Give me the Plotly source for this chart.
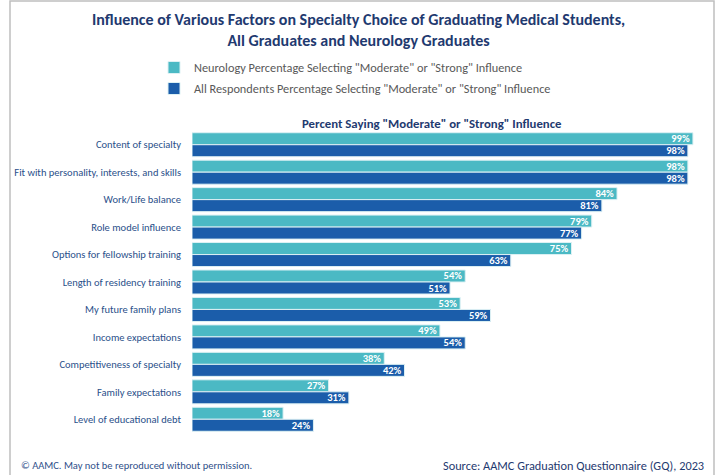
import plotly.graph_objects as go

categories = [
    "Content of specialty",
    "Fit with personality, interests, and skills",
    "Work/Life balance",
    "Role model influence",
    "Options for fellowship training",
    "Length of residency training",
    "My future family plans",
    "Income expectations",
    "Competitiveness of specialty",
    "Family expectations",
    "Level of educational debt",
]
neurology = [99, 98, 84, 79, 75, 54, 53, 49, 38, 27, 18]
all_resp = [98, 98, 81, 77, 63, 51, 59, 54, 42, 31, 24]

series_names = [
    'Neurology Percentage Selecting "Moderate" or "Strong" Influence',
    'All Respondents Percentage Selecting "Moderate" or "Strong" Influence',
]

FONT = "Carlito, Lato, sans-serif"
TEAL = "#4BB9C4"
BLUE = "#1B5DAA"
NAVY = "#1F3A70"
LABEL = "#2A4F8A"

W, H = 720, 475
L, R, T, B = 192, 698, 131, 433


def px(x):
    return (x - L) / (R - L)


def py(y):
    return (B - y) / (B - T)


fig = go.Figure()
for i, (name, vals, col) in enumerate([(series_names[0], neurology, TEAL), (series_names[1], all_resp, BLUE)]):
    fig.add_trace(go.Bar(
        y=categories, x=vals, name=name, orientation="h",
        legendgroup=f"g{i}",
        marker=dict(color=col, line=dict(color="#DDF1F4", width=1)),
        texttemplate="<b>%{x}%</b>", textposition="inside", insidetextanchor="end",
        textfont=dict(color="white", size=10.5, family=FONT),
        hoverinfo="skip",
    ))

fig.update_layout(
    width=W, height=H,
    margin=dict(l=L, r=W - R, t=T, b=H - B, pad=0),
    paper_bgcolor="white", plot_bgcolor="white",
    barmode="group", bargap=0.125, bargroupgap=0,
    uniformtext=dict(minsize=10.5, mode="show"),
    font=dict(family=FONT, color=LABEL),
    xaxis=dict(range=[0, 100], visible=False, fixedrange=True),
    yaxis=dict(categoryorder="array", categoryarray=categories, autorange="reversed",
               showgrid=False, showline=False, ticks="", ticklabelstandoff=10,
               fixedrange=True,
               tickfont=dict(size=10.5, color=LABEL, family=FONT)),
    showlegend=True,
    legend=dict(orientation="v", x=px(154), y=py(53), xanchor="left", yanchor="top",
                xref="paper", yref="paper", traceorder="grouped",
                font=dict(size=12.3, color="#595959", family=FONT),
                itemwidth=30, tracegroupgap=2, bgcolor="rgba(0,0,0,0)"),
    annotations=[
        dict(text="<b>Influence of Various Factors on Specialty Choice of Graduating Medical Students,</b><br><b>All Graduates and Neurology Graduates</b>",
             x=px(358), y=py(30), xref="paper", yref="paper", showarrow=False,
             xanchor="center", yanchor="middle",
             font=dict(size=16, color=NAVY, family=FONT)),
        dict(text="<b>Percent Saying \"Moderate\" or \"Strong\" Influence</b>",
             x=px(432), y=py(123), xref="paper", yref="paper", showarrow=False,
             xanchor="center", yanchor="middle",
             font=dict(size=12.8, color=NAVY, family=FONT)),
        dict(text="© AAMC. May not be reproduced without permission.",
             x=px(19), y=py(465), xref="paper", yref="paper", showarrow=False,
             xanchor="left", yanchor="middle",
             font=dict(size=10.5, color="#2F4F8A", family=FONT)),
        dict(text="Source: AAMC Graduation Questionnaire (GQ), 2023",
             x=px(706), y=py(465), xref="paper", yref="paper", showarrow=False,
             xanchor="right", yanchor="middle",
             font=dict(size=12.3, color=NAVY, family=FONT)),
    ],
    shapes=[
        dict(type="path", xref="paper", yref="paper",
             path=f"M {px(10)} {py(480)} L {px(10)} {py(1)} L {px(714)} {py(1)} L {px(714)} {py(480)}",
             line=dict(color="#BFBFBF", width=1.5)),
    ],
)

fig.write_html("out.html", config={"displayModeBar": False},
               post_script="document.body.style.margin='0';document.body.style.overflow='hidden';")
